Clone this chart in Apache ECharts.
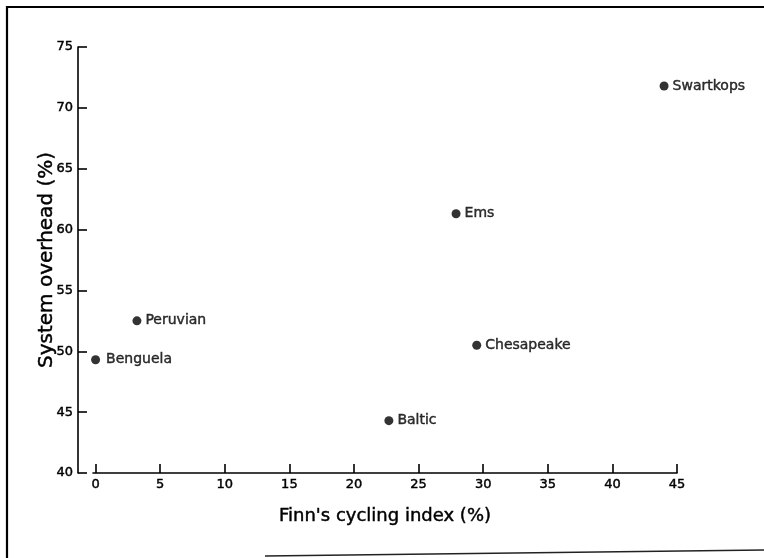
<!DOCTYPE html>
<html>
<head>
<meta charset="utf-8">
<script src="https://cdn.jsdelivr.net/npm/echarts@6/dist/echarts.min.js"></script>
<style>
  html, body { margin: 0; padding: 0; background: #fff; }
  #chart { width: 764px; height: 558px; }
</style>
</head>
<body>
<div id="chart"></div>
<script>
// Estuary / upwelling systems: Finn's cycling index vs. system overhead
const systems   = ['Swartkops', 'Ems', 'Chesapeake', 'Peruvian', 'Benguela', 'Baltic'];
const cycling   = [44.0, 27.9, 29.5, 3.2, 0.0, 22.7];   // Finn's cycling index (%)
const overhead  = [71.8, 61.3, 50.5, 52.5, 49.3, 44.3]; // System overhead (%)
const xTicks    = [0, 5, 10, 15, 20, 25, 30, 35, 40, 45];
const yTicks    = [40, 45, 50, 55, 60, 65, 70, 75];

const FONT = '"DejaVu Sans", "Liberation Sans", sans-serif';
const INK = '#000';
// a thin outline in the same ink gives the lettering a slightly heavier stroke
const heavy = { textBorderColor: INK, textBorderWidth: 0.45 };

const points = systems.map((name, i) => ({
  name: name,
  value: [cycling[i], overhead[i]],
  label: { distance: name === 'Benguela' ? 6 : 4 }
}));

const chart = echarts.init(document.getElementById('chart'), null, { renderer: 'canvas' });

chart.setOption({
  animation: false,
  backgroundColor: '#fff',
  grid: { left: 93, right: 87, top: 47, bottom: 85, containLabel: false },
  xAxis: {
    type: 'value',
    min: -0.2,
    max: xTicks[xTicks.length - 1],
    name: "Finn's cycling index (%)",
    nameLocation: 'middle',
    nameGap: 34,
    nameMoveOverlap: false,
    nameTextStyle: Object.assign({ fontFamily: FONT, fontSize: 18, color: INK }, heavy),
    axisLine: { show: true, onZero: false, lineStyle: { color: INK, width: 1.6 } },
    axisTick: { show: true, inside: true, length: 9, customValues: xTicks,
                lineStyle: { color: INK, width: 1.6 } },
    axisLabel: Object.assign({ show: true, margin: 5, customValues: xTicks,
                 fontFamily: FONT, fontSize: 13, color: INK }, heavy),
    splitLine: { show: false }
  },
  yAxis: {
    type: 'value',
    min: yTicks[0],
    max: yTicks[yTicks.length - 1],
    interval: 5,
    offset: 15,
    name: 'System overhead (%)',
    nameLocation: 'middle',
    nameRotate: 90,
    nameGap: 21,
    nameMoveOverlap: false,
    nameTextStyle: Object.assign({ fontFamily: FONT, fontSize: 20, color: INK }, heavy),
    axisLine: { show: true, onZero: false, lineStyle: { color: INK, width: 1.6 } },
    axisTick: { show: true, inside: true, length: 9, lineStyle: { color: INK, width: 1.6 } },
    axisLabel: Object.assign({ show: true, margin: 5, fontFamily: FONT, fontSize: 13, color: INK }, heavy),
    splitLine: { show: false }
  },
  series: [{
    type: 'scatter',
    data: points,
    symbol: 'circle',
    symbolSize: 9,
    itemStyle: { color: INK },
    label: Object.assign({
      show: true,
      position: 'right',
      formatter: p => p.name,
      fontFamily: FONT,
      fontSize: 14,
      color: INK
    }, heavy)
  }],
  graphic: [
    { type: 'polyline', silent: true,
      shape: { points: [[766, 7], [7, 7], [7, 560]] },
      style: { stroke: INK, lineWidth: 2.2, fill: null } },
    { type: 'line', silent: true,
      shape: { x1: 265, y1: 556, x2: 766, y2: 550 },
      style: { stroke: '#222', lineWidth: 1.5 } }
  ]
});
</script>
</body>
</html>
